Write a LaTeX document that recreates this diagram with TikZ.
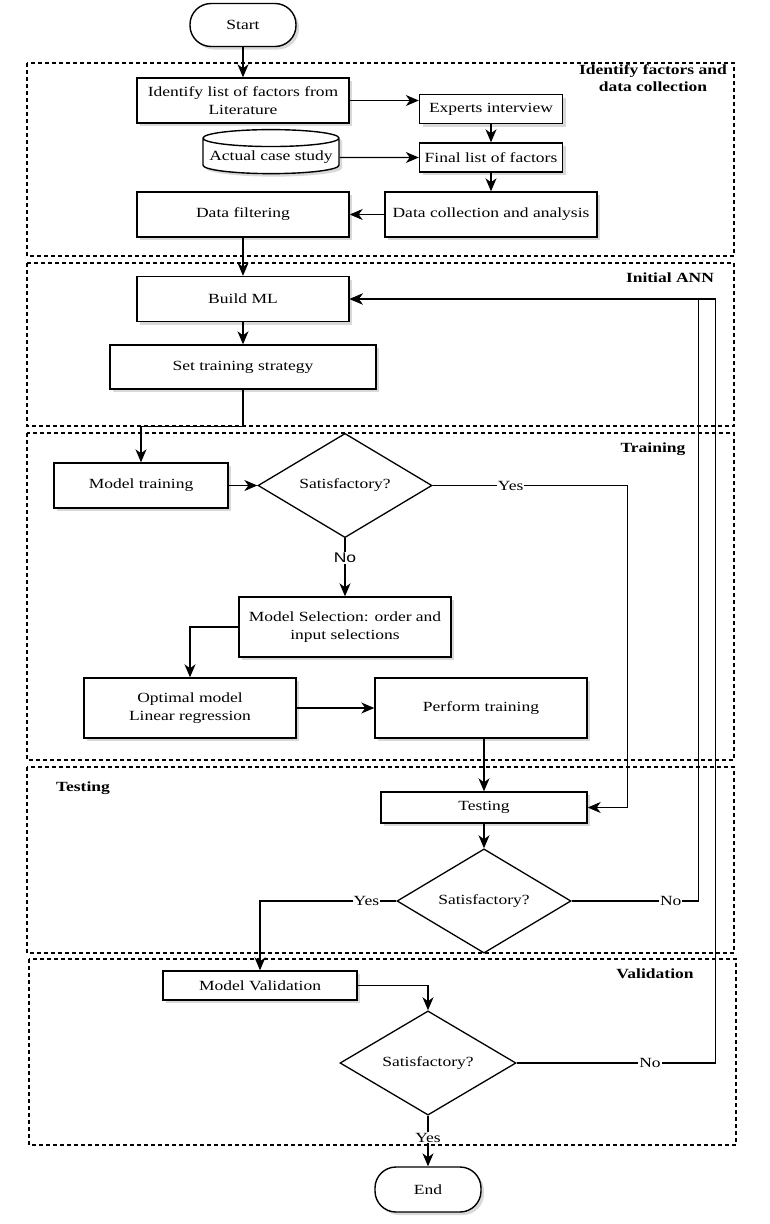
\documentclass[tikz,border=0pt]{standalone}
\usepackage{fontspec}
\setmainfont{Liberation Serif}[FakeStretch=1.25]
\newfontfamily\labelsans{Liberation Sans}[FakeStretch=1.25]
\usepackage{tikz}
\usetikzlibrary{positioning}
\usetikzlibrary{shapes, arrows.meta, shadows}

\begin{document}
\begin{tikzpicture}[x=1pt, y=1pt, font=\fontsize{14pt}{18pt}\selectfont]
    \tikzstyle{block} = [rectangle, draw, fill=white, line width=1.4pt,
    align=center, minimum width=212pt, minimum height=45pt, inner sep=2pt,
    drop shadow={shadow xshift=3pt, shadow yshift=-3pt, opacity=0.3}]
    \tikzstyle{terminal} = [block, rounded corners=21pt, minimum width=106pt,
    minimum height=43pt]
    \tikzstyle{store} = [cylinder, shape border rotate=90, draw, fill=white,
    line width=1.4pt, aspect=0.13, minimum width=136pt, minimum height=44pt,
    drop shadow={shadow xshift=3pt, shadow yshift=-3pt, opacity=0.3}]
    \tikzstyle{decision} = [diamond, draw, fill=white, line width=1.3pt,
    minimum width=174pt, minimum height=88pt, inner sep=0pt]
    \tikzstyle{line} = [draw, line width=1.1pt,
    -{Stealth[length=13pt, width=11pt, inset=4pt]}]
    \tikzstyle{zone} = [draw, line width=1.2pt, dash pattern=on 4pt off 3pt]
    \tikzstyle{zonetitle} = [align=center, font=\fontsize{14pt}{17pt}\selectfont\bfseries]
    \tikzstyle{tag} = [fill=white, inner sep=1pt]
    \tikzstyle{sanstag} = [tag, font=\labelsans\fontsize{14pt}{18pt}\selectfont]
    \useasboundingbox (0,0) rectangle (769,-1224);
    % stages
    \draw [zone] (27,-63) rectangle (734,-256);
    \draw [zone] (27,-263) rectangle (734,-426);
    \draw [zone] (27,-433) rectangle (734,-760);
    \draw [zone] (27,-767) rectangle (734,-953);
    \draw [zone] (29,-959) rectangle (736,-1145);
    \node [zonetitle] (t1) at (653,-78) {Identify factors and\\data collection};
    \node [zonetitle] (t2) at (670,-278) {Initial ANN};
    \node [zonetitle] (t3) at (653,-449) {Training};
    \node [zonetitle] (t4) at (83,-788) {Testing};
    \node [zonetitle] (t5) at (655,-974) {Validation};
    % steps
    \node [terminal] (start) at (243,-25) {Start};
    \node [block, below of=start, node distance=75.5pt] (identify)
    {Identify list of factors from\\Literature};
    \node [block, right of=identify, node distance=248pt, yshift=-8.5pt,
    minimum width=143pt, minimum height=29pt] (experts) {Experts interview};
    \node [block, below of=experts, node distance=48.5pt,
    minimum width=143pt, minimum height=29pt] (final) {Final list of factors};
    \node [store, left of=final, node distance=220pt] (casestudy)
    {Actual case study};
    \node [block, below of=final, node distance=57pt] (collect)
    {Data collection and analysis};
    \node [block, left of=collect, node distance=248pt] (filter)
    {Data filtering};
    \node [block, below of=filter, node distance=84.5pt] (buildml) {Build ML};
    \node [block, below of=buildml, node distance=68pt,
    minimum width=266pt, minimum height=44pt] (strategy) {Set training strategy};
    \node [block, below of=strategy, node distance=118.5pt, xshift=-102pt,
    minimum width=174pt] (modeltrain) {Model training};
    \node [decision, right of=modeltrain, node distance=204pt] (check1)
    {Satisfactory?};
    \node [block, below of=check1, node distance=141.5pt, minimum height=60pt]
    (select) {Model Selection: order and\\input selections};
    \node [block, below of=select, node distance=81pt, xshift=-155pt,
    minimum height=60pt] (optimal) {Optimal model\\Linear regression};
    \node [block, right of=optimal, node distance=291pt, minimum height=60pt]
    (perform) {Perform training};
    \node [block, below of=perform, node distance=99.5pt, xshift=3pt,
    minimum width=206pt, minimum height=31pt] (testing) {Testing};
    \node [decision, below of=testing, node distance=93.5pt] (check2)
    {Satisfactory?};
    \node [block, below of=check2, node distance=84.5pt, xshift=-224pt,
    minimum width=194pt, minimum height=29pt] (validate) {Model Validation};
    \node [decision, below of=validate, node distance=77.5pt, xshift=168pt,
    minimum width=176pt] (check3) {Satisfactory?};
    \node [terminal, below of=check3, node distance=126.5pt, minimum height=45pt]
    (end) {End};
    % arrows
    \path [line] (start) -- (identify);
    \path [line] (identify) -- (identify -| experts.west);
    \path [line] (experts) -- (final);
    \path [line] (casestudy) -- (final);
    \path [line] (final) -- (collect);
    \path [line] (collect) -- (filter);
    \path [line] (filter) -- (buildml);
    \path [line] (buildml) -- (strategy);
    \path [line] (strategy.south) -- ++(0,-37) -| (modeltrain.north);
    \path [line] (modeltrain) -- (check1);
    \path [line] (check1.east) -- node [tag, pos=0.4] {Yes} ++(195,0)
    |- (testing.east);
    \path [line] (check1) -- node [sanstag, pos=0.34] {No} (select);
    \path [line] (select.west) -| (optimal.north);
    \path [line] (optimal) -- (perform);
    \path [line] (perform.south -| testing.north) -- (testing.north);
    \path [line] (testing) -- (check2);
    \path [line] (check2.west) -| node [tag, pos=0.11] {Yes} (validate.north);
    \path [line] (check2.east) -- node [tag, pos=0.78] {No} ++(127,0)
    |- (buildml.east);
    \path [line] (validate.east) -| (check3.north);
    \path [line] (check3.east) -- node [tag, pos=0.67] {No} ++(199,0)
    |- (buildml.east);
    \path [line] (check3) -- node [tag, pos=0.43] {Yes} (end);
\end{tikzpicture}
\end{document}
